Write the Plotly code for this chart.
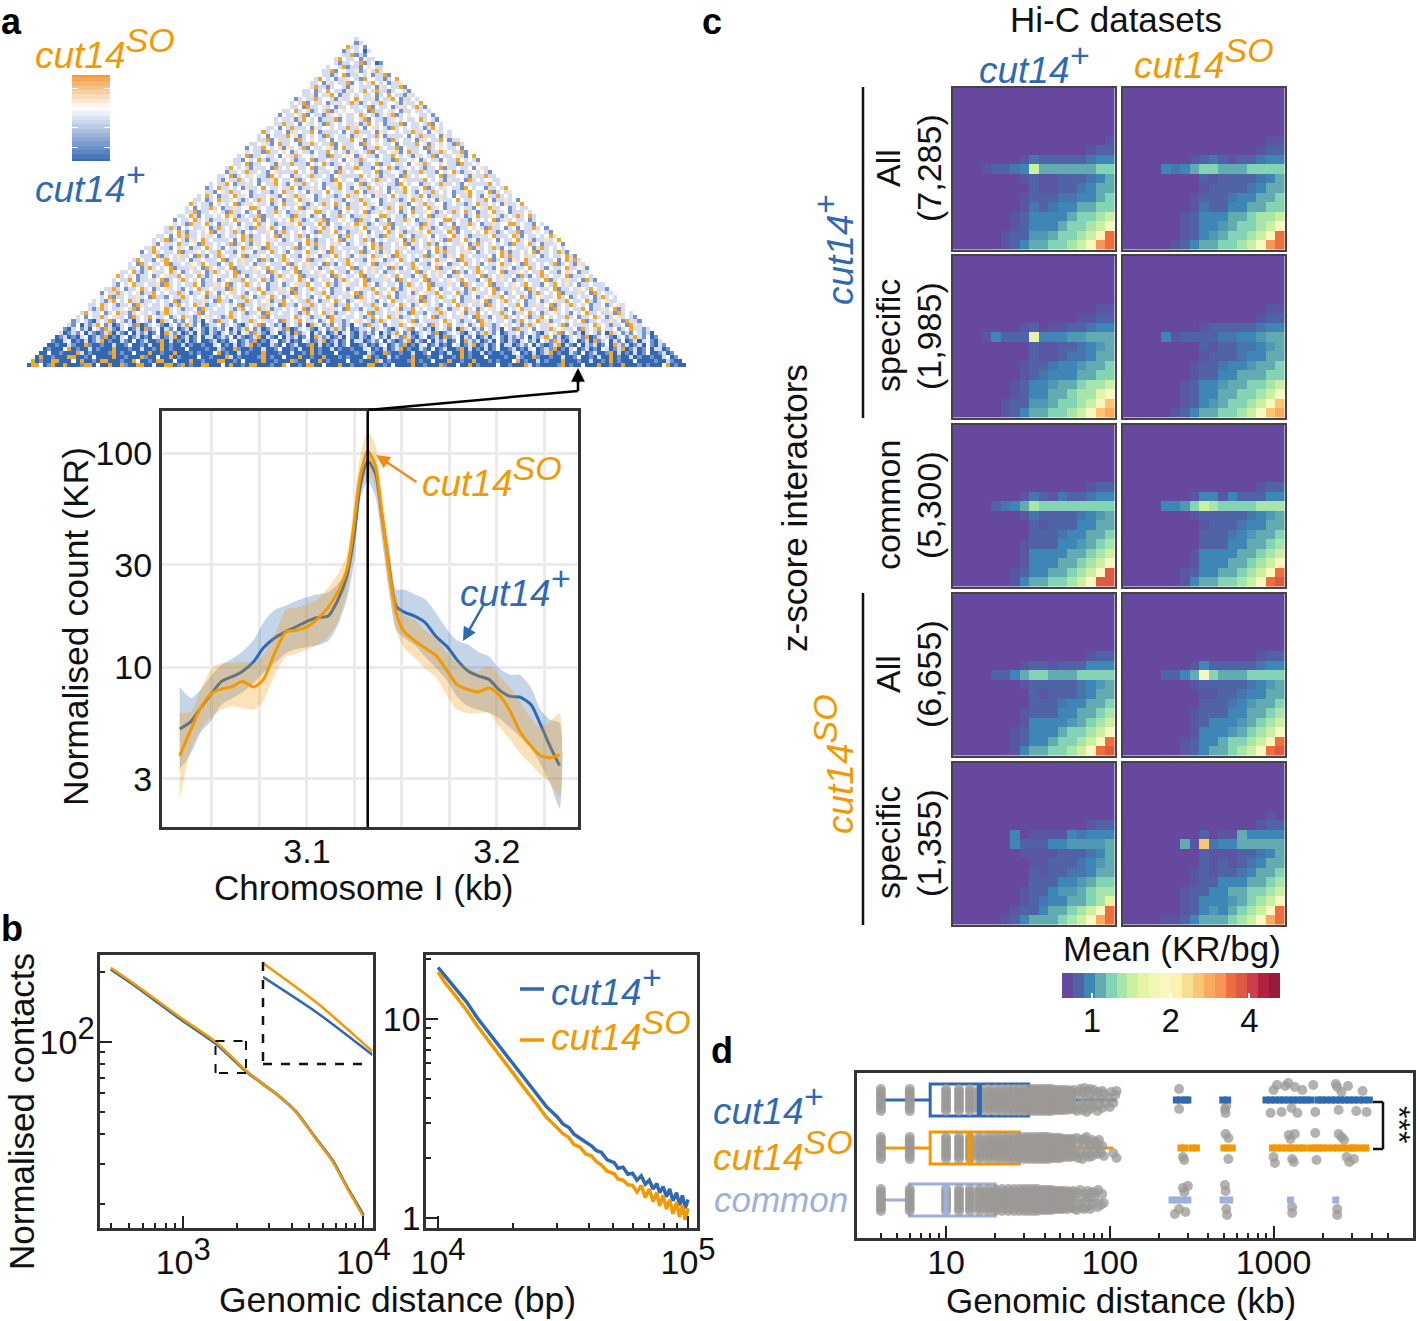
import plotly.graph_objects as go

W, H = 1418, 1321
FONT = "Liberation Sans"
INK = "#111111"
BLUE = "#2f69b1"
ORANGE = "#f39800"
LILAC = "#9db0dc"
GRAY = "#9b9896"
FRAME_C = "#333333"

# ---------- panel a: difference map, rows from apex to base (levels 0-5) ----------
TRI_COLORS = ["#3268b1", "#7793cf", "#d3dcf2", "#ffffff", "#fde3c2", "#f6a623"]
TRI_ROWS = [
"2","312","52231","1232302","322512133","2532231422","3212232512301","23325122134322",
"22513322412325","32212351223231","25323122432153","22314232251323","32522123321432",
"2231235322142325","3224132253122323","1232252332142235","23251322312423252","32231522342312232",
"22352321232512343","13223251322124323","2322412532312225","32252231342321523","22313252223142332",
"52322312432253122","23132225341232321","32251322231523432","22342135223312252","13225323214232513",
"32322152234312322","23512232231342523","22132352124323212","32235122332142252","25323214223152323",
"31223252232134222","22351232432215323","32132252323122453","23225312242313225","12352232314223532",
"32213425223312322","23523122352431222","22312352243212325","52322132323512423","23132252312242335",
"32251223432152231","22352132232354212","13223523212242352","32321522352312243","25213232243125232",
"32235212232351423","22313525223242312","23251232142352322","32132235223415223","22532213243122352",
"13252322351224323","32223512324223152","25322132532423122","23152322351223243","32231252323512224",
"22352123422352312","52323122312342253","23225312242351232","32132352232241523","22523122352312342",
"13225232341225323","32351223224231522","23212532352412232","22352321223154232","32125232243251322",
"25322312352212342","23132252342231523",
"12321023251321202321305231213212032152",
"21302125312012321501232102312521301223",
"10231203215210230120512302130120231021",
"20121302101250210302120130521201203102",
"01201023012150102301201032012501201302",
"10023010201250100210301200150201020130",
"00100210051001002001300102005010020100",
"01000350100201000500010020010501000300",
"00300100052010000150100300050010050001",
"05001000550010300005001000510030050100",
"50100550003050010550001005300105500300",
"05530150050001550300500510055003005501",
]

CB_A_VALUES = [1.0, .87, .74, .61, .48, .35, .22, .09, -.04, -.17, -.3, -.43, -.56, -.69, -.82, -.95, -1.08, -1.21, -1.34, -1.47, -1.6]
CB_A_TICKS = [.58, -.6, -1.18]

# ---------- panel a: zoom profile ----------
PROFILE_KB = [3.033,3.039,3.044,3.05,3.055,3.061,3.066,3.072,3.077,3.083,3.089,3.094,3.100,3.105,3.111,3.116,3.121,3.125,3.128,3.132,
              3.136,3.139,3.143,3.147,3.151,3.157,3.162,3.168,3.174,3.179,3.185,3.190,3.196,3.201,3.207,3.212,3.218,3.223,3.228,3.233]
WT_MEAN = [5.13,5.57,6.43,7.56,8.57,9.04,9.54,10.6,12.27,13.66,14.68,15.38,16.34,17.0,17.25,20.3,26.5,42.3,69.8,91.4,
           80.6,54.3,30.6,19.2,18.1,17.25,16.2,13.9,12.4,10.8,9.55,9.1,8.73,7.84,7.29,7.24,6.67,5.38,4.26,3.46]
WT_HIGH = [8.07,7.17,7.84,9.2,10.25,11.0,11.8,13.4,16.1,18.5,19.4,20.3,21.2,21.8,22.3,24.3,28.5,45.4,77.8,100,
           89.8,60.5,36.6,23,23,21.8,20.8,17.9,14.9,13.3,12.7,11.8,11.2,9.9,9.2,9.2,8,6.31,5.67,5.47]
WT_LOW = [3.31,3.96,4.92,5.67,6.67,7.17,7.62,8.42,9.38,10.4,11.6,12.1,12.4,12.6,13.2,15.5,20.6,31.7,60.5,73.8,
          62.7,42.3,23.8,14.9,13.7,12.6,11.2,9.9,8.57,7.29,6.55,6.31,6.1,5.78,5.19,4.74,4.19,3.5,2.87,2.19]
SO_MEAN = [3.85,5.13,6.43,7.56,7.89,8.12,8.57,8.07,8.73,11.6,14.6,14.8,15.4,16.6,18.9,22.2,28.5,48,77.8,101.8,
           88,56.3,29.5,17.9,14.7,13.2,12.3,11.3,9.55,8.27,7.84,7.64,7.98,7.43,6.21,5.01,4.27,3.85,3.77,3.88]
SO_HIGH = [6.1,6.21,7.84,9.9,10.4,10.5,10.6,10.4,11.4,14.2,18.5,18.9,19.6,20.6,23.4,27,33.5,60.5,96.4,126,
           109,69.8,39.4,21.4,17.6,16.6,14.9,13.7,11.6,10.6,9.9,9.55,10.1,9.2,8,6.92,5.78,5.19,5.57,6.1]
SO_LOW = [2.4,4.11,5.09,5.88,6.31,6.55,6.43,6.31,6.92,9.2,11.2,11.5,12.1,12.6,13.8,16.1,22.2,37.9,62.7,82,
          69.8,45.4,23,14.9,12.3,11,9.9,8.9,7.29,6.31,6.1,6.1,6.1,5.28,4.57,3.96,3.5,3.14,2.87,2.49]
PROFILE_GRID = [3.05,3.075,3.1,3.125,3.15,3.175,3.2,3.225]
PROFILE_Y_TICKS = [3,10,30,100]
PEAK_KB = 3.132

# ---------- panel b ----------
SHORT_BP = [397,548,983,1523,2265,3350,4236,5350,6760,8050,10000]
SHORT_SO = [208,175,126,99.6,74.3,59,50,39,30.5,23.8,17.7]
SHORT_WT = [205,173,124,98,74,59,50,39.2,30.8,24,18]
INSET_BP = [1523,1858,2265]
INSET_WT = [96.3,86.1,75.7]
INSET_SO = [100.5,88.7,76.5]
LONG_BP = [10000,10600,11700,13000,14400,16000,17800,19800,22000,24400,27100,30000,31500,33400,35000,37000,39000,41200,43000,45000,47500,
           50700,52500,55000,57500,60000,62500,65000,67500,70000,72500,75000,77000,79500,82000,84500,87000,90000,92500,95000,97500,100000]
LONG_WT = [18.2,16.6,14.3,12.2,10.1,8.5,7.15,6.0,5.05,4.3,3.64,3.22,2.98,2.85,2.64,2.52,2.4,2.3,2.18,2.14,1.96,
           1.9,1.78,1.8,1.66,1.68,1.55,1.63,1.48,1.55,1.4,1.49,1.34,1.44,1.28,1.4,1.22,1.34,1.16,1.3,1.12,1.24]
LONG_SO = [17.3,15.4,13.2,11.1,9.2,7.7,6.45,5.4,4.55,3.85,3.22,2.84,2.66,2.54,2.34,2.27,2.1,2.05,1.92,1.85,1.72,
           1.67,1.57,1.55,1.47,1.46,1.35,1.46,1.27,1.4,1.21,1.34,1.15,1.3,1.11,1.24,1.05,1.2,1.01,1.16,.98,1.12]

# ---------- panel c: pile-ups, band index per cell; unlisted top rows are background ----------
SPECTRAL = ["#66489f","#4f63a6","#3e86b5","#62abb0","#85d3b5","#a8e5ab","#cbf0a0","#e3f5a5","#f0f7b0","#f9f7c0",
            "#fbf2ae","#f8dd93","#fbc673","#faaa5e","#f8965a","#ef6e3e","#df5a42","#cf3e49","#b32140","#981b3b"]
HALF = {"A":.5,"B":1.5,"C":2.5}
P_ALLWT_WT = ["0000000000000000A","00000000000000A11","0000000AB11111B22","000A11B2633333344","0000000A1AA111B23","000000001AA11B233","0000000A111BB2234","0000000AB1B223344","000000A1222234456","000000A1222344569","00000A11CC344569f","00000A123344569ef"]
P_ALLWT_SO = ["000000000000000AA","00000000000000A11","0000000A1B1A11B22","00002B23443334444","000000001A1111B23","00000000A1111B233","0000000A111B22334","0000000AB11223344","000000A1222334556","000000A122C344569","000000A12C344569f","00000A123344569ef"]
P_SPWT_WT = ["000000000000000AA","0000000000000AA11","0000000A10AA11B22","000A21117222CC333","000000001AA11B2C3","000000001AA1BB233","0000000A11B22C334","0000000A1B2223344","000000A122C334556","000000A1223345579","00000A11CC344569c","00000A123344569cd"]
P_SPWT_SO = ["000000000000000AA","00000000000000A11","00000000A11111B22","00002A1111BB22C33","000000001A11BB2C3","00000000A111B2233","0000000A11B22C334","0000000A112233344","000000A122C334456","000000A1223344569","000000A12C344569c","00000A123344569cd"]
P_COM_WT = ["00000000000000000","00000000000000A11","0000000AB1AB11B22","00001B23544444444","0000000AB1111B2C3","000000001A1112233","00000000111B22334","0000000A11122C345","0000000A222233456","0000000A222334569","000000A122334569g","000000A23344569gg"]
P_COM_SO = ["00000000000000000","00000000000000A11","0000000A22A211122","000022C4654444555","0000000A11111B2C3","00000000A111B2233","00000000111B2C334","00000000111223345","0000000A222233456","0000000A222334569","000000A122334569f","000000A23344569fg"]
P_ALLSO_WT = ["00000000000000000","00000000000000A11","0000000A11A111222","00001123443334444","0000000A11111B2C3","000000001A111B233","00000000111B22334","0000000A111223345","0000000A2222C3456","000000A1222344569","000000A122344569f","000000A23344569fg"]
P_ALLSO_SO = ["00000000000000000","00000000000000A11","0000000A211111B22","00001123943334444","0000000A11111B2C3","00000000AA11B2233","00000000111B2C334","0000000A111223345","0000000A1222C3456","0000000A222C34569","000000A122344569f","000000A12334569fg"]
P_SPSO_WT = ["00000000000000000","00000000000000A11","00000020AAAA2B222","000000211122CCCC3","0000000AAAA111B23","00000000AA111B2C3","000000001A11BB233","0000000011122C344","0000000A112CC3455","0000000A1B2233457","000000A112334569f","00000A123334569df"]
P_SPSO_SO = ["000000000000000A0","00000000000000A11","0000000010AA32222","0000003AcB2233333","000000001AAA11B23","000000001A1A1B233","0000000A1A11B2334","0000000A112223345","000000A1122334456","000000A1222C34569","000000A12C234569f","0000AA123334569df"]
PILEUPS = [[P_ALLWT_WT,P_ALLWT_SO],[P_SPWT_WT,P_SPWT_SO],[P_COM_WT,P_COM_SO],[P_ALLSO_WT,P_ALLSO_SO],[P_SPSO_WT,P_SPSO_SO]]
PILEUP_LABELS = [("All","(7,285)"),("specific","(1,985)"),("common","(5,300)"),("All","(6,655)"),("specific","(1,355)")]
CB_C_TICKS = [2.25,9.47,16.7]
CB_C_TEXT = ["1","2","4"]

# ---------- panel d ----------
ROW_POS = {"wt":100,"so":52,"common":0}
BOX_WT = dict(q1=8,med=16,q3=32,lo=4,hi=110)
BOX_SO = dict(q1=8,med=14,q3=28,lo=4,hi=105)
BOX_COM = dict(q1=6,med=10,q3=20,lo=4,hi=90)
DIST_KB = [4,6,10,12,14,16,18,20,22,24,26,28,30,32,34,36,38,40,42,44,46,48,50,52,55,58]
SPREAD_WT = [11,11,11,11,11,11,11,11,11,11,11,11,11,11,11,11,11,11,11,11,10,10,10,10,10,9]
SPREAD_SO = [11,11,11,11,11,11,11,11,11,11,11,11,11,11,11,11,11,11,11,10,10,10,10,9,9,9]
SPREAD_COM = [11,11,11,11,11,11,11,11,11,11,11,11,11,11,11,11,10,10,10,10,9,9,9,9,9,8]
JITTER = [-1,-.75,-.5,-.25,0,.25,.5,.75,1]
FAR_WT_X = [60,61,62,63,64,65,66,67,68,69,70,70,71,72,73,74,75,76,76,78,80,80,82,84,85,86,88,90,90,92,95,98,100,102,105,108,110,265,265,505,510,515,960,1000,1050,1120,1180,1230,1290,1350,1400,1500,1750,1800,2400,2450,2500,2600,2850,3200,3500,3700]
FAR_WT_OFF = [10,-9,5,-11,8,-6,11,-3,-10,7,12,-8,2,-12,9,-5,6,11,-9,-2,10,-7,4,-11,8,-5,1,9,-8,6,-4,3,-7,8,-3,5,9,11,-9,-9,-13,-6,-13,10,15,-12,14,17,-8,13,-13,10,15,-12,16,13,-10,8,14,-11,9,-12]
FAR_SO_X = [60,61,62,63,64,65,66,67,68,69,70,71,72,73,74,75,76,78,78,80,82,84,85,86,88,90,92,105,110,280,285,510,530,530,1000,1020,1240,1270,1300,1330,1350,1800,1830,2500,2600,2700,2800,2900,3100]
FAR_SO_OFF = [9,-8,-3,10,-10,5,-6,8,-11,3,9,-7,11,-4,6,-9,2,8,-8,-3,6,-6,3,8,-5,2,-8,-5,-10,-9,-12,14,10,-11,-9,-15,13,9,-11,-14,14,15,-12,14,11,8,-9,-14,-11]
FAR_COM_X = [60,61,62,63,64,65,66,67,68,70,70,72,73,74,75,76,78,78,80,82,84,85,88,90,92,250,265,280,285,290,300,505,510,515,520,1300,1300,2450,2450]
FAR_COM_OFF = [9,-9,4,-10,7,-5,10,-3,-8,6,-9,2,9,-6,5,-9,8,-4,2,7,-7,10,-5,6,-3,-14,-9,12,8,-12,14,15,9,-9,-15,-7,-13,-9,-15]
SQ_WT = [255,270,290,300,490,525,900,960,1020,1090,1160,1240,1320,1410,1500,1585,1690,1870,1975,2100,2250,2400,2560,2730,2910,3110,3320,3550,3850]
SQ_SO = [272,288,318,338,498,525,560,985,1050,1120,1195,1280,1320,1440,1530,1690,1800,1890,1990,2130,2320,2480,2660,2850,3050,3150,3440,3670]
SQ_COM = [240,258,278,300,492,540,1270,2400]

# ---------- helpers ----------
fig = go.Figure()
n_axes = 0
shapes, notes, axes = [], [], {}

def fx(x): return x / W
def fy(y): return 1 - y / H

def add_axes(x0, x1, y0, y1, xa=None, ya=None):
    global n_axes
    n_axes += 1
    s = "" if n_axes == 1 else str(n_axes)
    base = dict(showgrid=False, zeroline=False, showticklabels=False, ticks="", automargin=False,
                tickfont=dict(family=FONT, size=34, color=INK))
    xd = dict(base, domain=[fx(x0), fx(x1)], anchor="y" + s)
    yd = dict(base, domain=[fy(y1), fy(y0)], anchor="x" + s)
    xd.update(xa or {}); yd.update(ya or {})
    axes["xaxis" + s] = xd
    axes["yaxis" + s] = yd
    return "x" + s, "y" + s

def txt(x, y, text, size=35, color=INK, angle=0, xanchor="center", yanchor="middle"):
    notes.append(dict(x=fx(x), y=fy(y), xref="paper", yref="paper", text=text, showarrow=False,
                      font=dict(family=FONT, size=size, color=color), textangle=angle,
                      xanchor=xanchor, yanchor=yanchor))

def seg(pts, color="#000000", width=2.5, dash=None):
    for (a, b), (c, d) in zip(pts[:-1], pts[1:]):
        shapes.append(dict(type="line", xref="paper", yref="paper", x0=fx(a), y0=fy(b), x1=fx(c), y1=fy(d),
                           line=dict(color=color, width=width, dash=dash)))

def arrow(x_from, y_from, x_to, y_to, color):
    notes.append(dict(x=fx(x_to), y=fy(y_to), xref="paper", yref="paper", text="", showarrow=True,
                      ax=x_from - x_to, ay=y_from - y_to, axref="pixel", ayref="pixel",
                      arrowhead=2, arrowsize=1.1, arrowwidth=2.5, arrowcolor=color))

LABEL_SIZE = 37
def cut(sym):
    return "<i>cut14<sup><span style='font-size:34px'>%s</span></sup></i>" % sym

def sup10(p, size=34):
    return "10<sup><span style='font-size:%dpx'>%s</span></sup>" % (size - 3, p)

FRAME = dict(showline=True, linewidth=3, linecolor=FRAME_C, mirror=True)

def rgba(hexc, a):
    return "rgba(%d,%d,%d,%g)" % (int(hexc[1:3], 16), int(hexc[3:5], 16), int(hexc[5:7], 16), a)

def line(xa, ya, x, y, color, width=3, shape="linear"):
    fig.add_trace(go.Scatter(x=x, y=y, xaxis=xa, yaxis=ya, mode="lines", line=dict(color=color, width=width, shape=shape, smoothing=.7), showlegend=False, hoverinfo="skip"))

# ---------- panel a: triangle ----------
nrows = len(TRI_ROWS)
ncols = 2 * nrows - 1
xa, ya = add_axes(27, 686, 37, 367, dict(range=[-.5, ncols - .5], visible=False), dict(range=[nrows - .5, -.5], visible=False))
tri_z = []
for r, row in enumerate(TRI_ROWS):
    w = 2 * r + 1
    s, k = row, r - 1
    while len(s) < w:
        s += TRI_ROWS[k]
        k -= 1
    pad = [None] * (nrows - 1 - r)
    tri_z.append(pad + [int(c) for c in s[:w]] + pad)
fig.add_trace(go.Heatmap(z=tri_z, xaxis=xa, yaxis=ya, zmin=0, zmax=5, showscale=False, hoverinfo="skip",
                         colorscale=[[i / 5, c] for i, c in enumerate(TRI_COLORS)]))
seg([(368, 410), (578, 391), (578, 378)], "#000000", 2.5)
arrow(578, 385, 578, 368, "#000000")

# colour key
xa, ya = add_axes(72, 110, 75, 161, dict(range=[0, 1], visible=False),
                  dict(range=[-1.6, 1.0], ticks="inside", tickvals=CB_A_TICKS, tickcolor="white", ticklen=6, tickwidth=1, mirror="ticks", showticklabels=False))
fig.add_trace(go.Heatmap(z=[[v] for v in CB_A_VALUES], x=[.5], y=CB_A_VALUES, xaxis=xa, yaxis=ya, zmin=-1.6, zmax=1, showscale=False, hoverinfo="skip",
                         colorscale=[[0, "#3a6db3"], [.615, "#ffffff"], [1, "#f29a3c"]]))
txt(33, 48, cut("SO"), LABEL_SIZE, ORANGE, xanchor="left")
txt(33, 183, cut("+"), LABEL_SIZE, BLUE, xanchor="left")
txt(11, 21, "<b>a</b>", 36, "#000000")
txt(12, 928, "<b>b</b>", 36, "#000000")
txt(712, 21, "<b>c</b>", 36, "#000000")
txt(722, 1050, "<b>d</b>", 36, "#000000")

# ---------- panel a: profile ----------
grid = dict(showgrid=True, gridcolor="#ebebeb", gridwidth=3)
xa, ya = add_axes(162, 578, 411, 827,
                  dict(FRAME, **grid, range=[3.0237, 3.2427], tickvals=PROFILE_GRID,
                       ticktext=["", "", "3.1", "", "", "", "3.2", ""], showticklabels=True, ticklen=0, ticklabelstandoff=-8),
                  dict(FRAME, **grid, type="log", range=[.2524, 2.1963], tickvals=PROFILE_Y_TICKS,
                       ticktext=[str(v) for v in PROFILE_Y_TICKS], showticklabels=True, ticklen=0))
for hi, lo, mean, c in ((WT_HIGH, WT_LOW, WT_MEAN, BLUE), (SO_HIGH, SO_LOW, SO_MEAN, ORANGE)):
    fig.add_trace(go.Scatter(x=PROFILE_KB + PROFILE_KB[::-1], y=hi + lo[::-1], xaxis=xa, yaxis=ya, mode="lines", fill="toself",
                             line=dict(width=0, shape="spline", smoothing=.7), fillcolor=rgba(c, .28), showlegend=False, hoverinfo="skip"))
    line(xa, ya, PROFILE_KB, mean, c, 3, "spline")
line(xa, ya, [PEAK_KB, PEAK_KB], [10 ** .2524, 10 ** 2.1963], "#000000", 2.5)
txt(76, 627, "Normalised count (KR)", 35.5, INK, -90)
txt(364, 887, "Chromosome I (kb)", 35)
txt(420, 476, cut("SO"), LABEL_SIZE, ORANGE, xanchor="left")
txt(458, 586, cut("+"), LABEL_SIZE, BLUE, xanchor="left")
arrow(418, 483, 376, 455, "#f08a1d")
arrow(484, 604, 463, 641, BLUE)

# ---------- panel b ----------
TICK = dict(ticks="inside", ticklen=12, tickwidth=1.5, tickcolor="#222222", showticklabels=True)
def minor(vals): return dict(ticks="inside", ticklen=5, tickwidth=1.5, tickcolor="#222222", tickvals=vals, showgrid=False)
xa, ya = add_axes(99.5, 372.5, 955, 1228,
                  dict(FRAME, **TICK, type="log", range=[2.536, 4.05], tickvals=[1000, 10000], ticktext=[sup10(3), sup10(4)], ticklabelstandoff=2,
                       minor=minor([400, 500, 600, 700, 800, 900, 2000, 3000, 4000, 5000, 6000, 7000, 8000, 9000])),
                  dict(FRAME, **TICK, type="log", range=[1.2, 2.373], tickvals=[100], ticktext=[sup10(2)], ticklabelstandoff=-5,
                       minor=minor([20, 30, 40, 50, 60, 70, 80, 90, 200])))
line(xa, ya, SHORT_BP, SHORT_WT, BLUE, 3, "spline")
line(xa, ya, SHORT_BP, SHORT_SO, ORANGE, 2.5, "spline")
seg([(215.5, 1041), (246, 1041), (246, 1073), (215.5, 1073), (215.5, 1041)], "#111111", 2, "dash")
seg([(263, 962), (263, 1064), (371, 1064)], "#111111", 2.5, "dash")
xa, ya = add_axes(263, 372.5, 961.7, 1064, dict(type="log", range=[3.183, 3.355], visible=False), dict(type="log", range=[1.867, 2.004], visible=False))
line(xa, ya, INSET_BP, INSET_WT, BLUE, 2.5, "spline")
line(xa, ya, INSET_BP, INSET_SO, ORANGE, 2.5, "spline")

xa, ya = add_axes(425.5, 696.5, 955, 1228,
                  dict(FRAME, **TICK, type="log", range=[3.95, 5.034], tickvals=[10000, 100000], ticktext=[sup10(4), sup10(5)], ticklabelstandoff=2,
                       minor=minor([20000, 30000, 40000, 50000, 60000, 70000, 80000, 90000])),
                  dict(FRAME, **TICK, type="log", range=[-.05, 1.322], tickvals=[1, 10], ticktext=["1", "10"], ticklabelstandoff=-5,
                       minor=minor([2, 3, 4, 5, 6, 7, 8, 9, 20])))
line(xa, ya, LONG_BP, LONG_WT, BLUE, 3.5)
line(xa, ya, LONG_BP, LONG_SO, ORANGE, 3.5)
seg([(520, 989), (544, 989)], BLUE, 3.5)
seg([(520, 1040), (544, 1040)], ORANGE, 3.5)
txt(549, 985, cut("+"), LABEL_SIZE, BLUE, xanchor="left")
txt(549, 1030, cut("SO"), LABEL_SIZE, ORANGE, xanchor="left")
txt(21, 1112, "Normalised contacts", 35, INK, -90)
txt(397, 1300, "Genomic distance (bp)", 35.5)

# ---------- panel c ----------
ROW_Y = [87, 255, 424, 593, 762]
COL_X = [952, 1122]
colors_c = [[i / 19, c] for i, c in enumerate(SPECTRAL)]
def level(c):
    return HALF[c] if c in HALF else int(c, 20)
for i, y0 in enumerate(ROW_Y):
    for j, x0 in enumerate(COL_X):
        xa, ya = add_axes(x0 + 1, x0 + 162.5, y0 + 1, y0 + 162.5,
                          dict(range=[-.5, 16.5], showline=True, linewidth=2, linecolor="#444444", mirror=True),
                          dict(range=[16.5, -.5], showline=True, linewidth=2, linecolor="#444444", mirror=True))
        rows = ["0" * 17] * (17 - len(PILEUPS[i][j])) + PILEUPS[i][j]
        fig.add_trace(go.Heatmap(z=[[level(c) for c in r] for r in rows], xaxis=xa, yaxis=ya, zmin=0, zmax=19,
                                 colorscale=colors_c, showscale=False, hoverinfo="skip"))
    cy = y0 + 81
    txt(888, cy, PILEUP_LABELS[i][0], 34, INK, -90)
    txt(929, cy, PILEUP_LABELS[i][1], 34, INK, -90)
seg([(863, 87), (863, 418)], "#111111", 2.5)
seg([(863, 593), (863, 925)], "#111111", 2.5)
txt(1116, 20, "Hi-C datasets", 35)
txt(1034, 63, cut("+"), LABEL_SIZE, BLUE)
txt(1204, 58, cut("SO"), LABEL_SIZE, ORANGE)
txt(794, 508, "z-score interactors", 35, INK, -90)
txt(834, 250, cut("+"), LABEL_SIZE, BLUE, -90)
txt(833, 764, cut("SO"), LABEL_SIZE, ORANGE, -90)
txt(1172, 948, "Mean (KR/bg)", 35)
xa, ya = add_axes(1062, 1280, 973, 998,
                  dict(range=[-.5, 19.5], ticks="inside", tickvals=CB_C_TICKS, ticktext=CB_C_TEXT, tickcolor="white", ticklen=5, tickwidth=1.5, showticklabels=True, tickfont=dict(family=FONT, size=33, color=INK)),
                  dict(range=[0, 1], visible=False))
fig.add_trace(go.Heatmap(z=[list(range(20))], x=list(range(20)), y=[.5], xaxis=xa, yaxis=ya, zmin=0, zmax=19, colorscale=colors_c, showscale=False, hoverinfo="skip"))

# ---------- panel d ----------
xa, ya = add_axes(856.5, 1412.5, 1072.5, 1237.5,
                  dict(FRAME, **TICK, type="log", range=[.453, 3.849], tickvals=[10, 100, 1000], ticktext=["10", "100", "1000"], ticklabelstandoff=-7,
                       minor=minor([4, 5, 6, 7, 8, 9, 20, 30, 40, 50, 60, 70, 80, 90, 200, 300, 400, 500, 600, 700, 800, 900, 2000, 3000, 4000, 5000])),
                  dict(FRAME, range=[-37.5, 127.5]))
gx, gy = [], []
for key, spreads, fx_list, off_list in (("wt", SPREAD_WT, FAR_WT_X, FAR_WT_OFF), ("so", SPREAD_SO, FAR_SO_X, FAR_SO_OFF), ("common", SPREAD_COM, FAR_COM_X, FAR_COM_OFF)):
    c = ROW_POS[key]
    for d, s in zip(DIST_KB, spreads):
        if s:
            for k in JITTER:
                gx.append(d); gy.append(c + k * s)
    for d, o in zip(fx_list, off_list):
        gx.append(d); gy.append(c + o)
fig.add_trace(go.Scatter(x=gx, y=gy, xaxis=xa, yaxis=ya, mode="markers", showlegend=False, hoverinfo="skip",
                         marker=dict(color=GRAY, size=10, opacity=.75, line=dict(width=0))))
for key, b, col, sq in (("wt", BOX_WT, BLUE, SQ_WT), ("so", BOX_SO, ORANGE, SQ_SO), ("common", BOX_COM, LILAC, SQ_COM)):
    c = ROW_POS[key]
    fig.add_trace(go.Box(y=[c], q1=[b["q1"]], median=[b["med"]], q3=[b["q3"]], lowerfence=[b["lo"]], upperfence=[b["hi"]],
                         orientation="h", width=32, whiskerwidth=0, boxpoints=False, xaxis=xa, yaxis=ya, showlegend=False, hoverinfo="skip",
                         line=dict(color=col, width=3), fillcolor="rgba(0,0,0,0)"))
    line(xa, ya, [b["med"], b["med"]], [c - 16, c + 16], col, 5)
    fig.add_trace(go.Scatter(x=sq, y=[c] * len(sq), xaxis=xa, yaxis=ya, mode="markers", showlegend=False, hoverinfo="skip",
                             marker=dict(color=col, size=7, symbol="square", line=dict(width=0))))
txt(711, 1104, cut("+"), LABEL_SIZE, BLUE, xanchor="left")
txt(711, 1150, cut("SO"), LABEL_SIZE, ORANGE, xanchor="left")
txt(712, 1199, "<i>common</i>", 35, LILAC, xanchor="left")
seg([(1373, 1102), (1383, 1102), (1383, 1149), (1373, 1149)], "#111111", 2.5)
txt(1399, 1124, "***", 32, INK, 90)
txt(1121, 1300, "Genomic distance (kb)", 35)

fig.update_layout(template="none", width=W, height=H, margin=dict(l=0, r=0, t=0, b=0, autoexpand=False), paper_bgcolor="white", plot_bgcolor="white",
                  showlegend=False, shapes=shapes, annotations=notes, font=dict(family=FONT, color=INK), **axes)
fig.write_html("out.html", config=dict(displayModeBar=False), post_script="document.body.style.margin='0';")
